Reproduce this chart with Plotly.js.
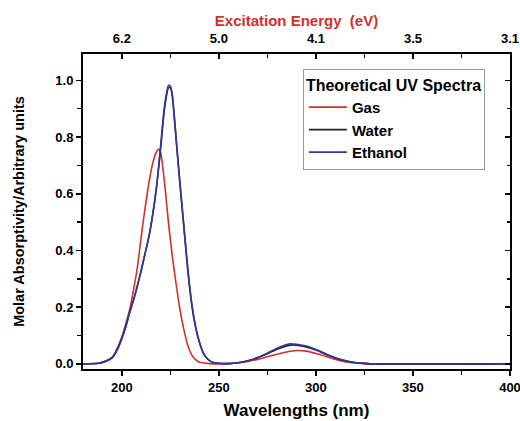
<!DOCTYPE html>
<html><head><meta charset="utf-8">
<script src="https://cdn.plot.ly/plotly-3.0.1.min.js"></script>
<style>body{margin:0;background:#fff}#c{width:520px;height:421px}</style>
</head><body><div id="c"></div>
<script>
// Gas
const gasX = [180,188,192,195,198,200,202,204,206,208,210,212,214,216,218,219,220,222,223,224,226,228,230,232,234,236,238,240,244,250,255,260,265,270,275,280,285,290,295,300,305,310,315,320,325,330,400];
const gasY = [0,0.002,0.01,0.022,0.06,0.095,0.14,0.19,0.26,0.34,0.45,0.55,0.64,0.71,0.75,0.757,0.745,0.64,0.57,0.5,0.38,0.28,0.19,0.12,0.065,0.032,0.015,0.006,0.002,0.0,0.001,0.004,0.009,0.016,0.025,0.034,0.042,0.047,0.045,0.037,0.027,0.016,0.008,0.003,0.001,0,0];
// Water
const waterX = [180,188,192,195,198,200,202,204,206,208,210,212,214,216,218,220,222,224,225,226,228,230,232,234,236,238,240,242,244,246,250,255,260,265,270,275,280,285,288,290,295,300,305,310,315,320,325,330,400];
const waterY = [0,0.002,0.01,0.022,0.055,0.09,0.13,0.18,0.225,0.275,0.33,0.39,0.45,0.53,0.63,0.76,0.9,0.973,0.975,0.945,0.79,0.63,0.48,0.33,0.21,0.13,0.075,0.038,0.018,0.008,0.002,0.001,0.004,0.011,0.022,0.036,0.052,0.063,0.067,0.066,0.06,0.049,0.034,0.021,0.011,0.005,0.002,0,0];
// Ethanol
const ethX = [180,188,192,195,198,200,202,204,206,208,210,212,214,216,218,220,222,224,225,226,228,230,232,234,236,238,240,242,244,246,250,255,260,265,270,275,280,285,287,290,295,300,305,310,315,320,325,330,400];
const ethY = [0,0.002,0.01,0.022,0.055,0.09,0.13,0.18,0.225,0.275,0.33,0.39,0.45,0.53,0.63,0.77,0.91,0.982,0.98,0.95,0.795,0.635,0.485,0.335,0.215,0.132,0.077,0.04,0.019,0.008,0.002,0.001,0.004,0.011,0.023,0.038,0.055,0.068,0.071,0.069,0.063,0.051,0.036,0.022,0.012,0.005,0.002,0,0];

const nmTicks = [200,250,300,350,400];
const eVLabels = ['6.2','5.0','4.1','3.5','3.1'];
const yTicks = [0,0.2,0.4,0.6,0.8,1.0];

const F = 'Arial, "Liberation Sans", sans-serif';
const line = (c)=>({color:c, width:1.6, shape:'spline', smoothing:0.6});

const traces = [
  {x:gasX, y:gasY, name:'Gas', mode:'lines', line:line('#d0312d')},
  {x:waterX, y:waterY, name:'Water', mode:'lines', line:line('#222222')},
  {x:ethX, y:ethY, name:'Ethanol', mode:'lines', line:line('#3535a0')},
  {x:gasX, y:gasY, xaxis:'x2', yaxis:'y2', mode:'lines', line:{width:0}, opacity:0, showlegend:false, hoverinfo:'skip'}
];

const axBase = {showgrid:false, zeroline:false, showline:true, linecolor:'#000', linewidth:2, tickcolor:'#000', tickwidth:1.5, ticklabeloverflow:'allow'};
const tf = {size:13, family:F, weight:'bold'};

const layout = {
  width:520, height:421,
  margin:{l:83, r:10, t:54, b:52},
  paper_bgcolor:'#fff', plot_bgcolor:'#fff',
  font:{family:F, color:'#000'},
  showlegend:true,
  xaxis: Object.assign({}, axBase, {
    range:[180,400], tickvals:nmTicks, ticks:'outside', ticklen:5, tickfont:tf,
    minor:{ticks:'outside', dtick:25, tick0:0, ticklen:4, tickcolor:'#000', tickwidth:1.5},
    title:{text:'Wavelengths (nm)', font:{size:17, family:F, weight:'bold'}, standoff:11}
  }),
  xaxis2: Object.assign({}, axBase, {
    range:[180,400], overlaying:'x', side:'top', anchor:'y', tickvals:nmTicks, ticktext:eVLabels,
    ticks:'inside', ticklen:5, tickfont:tf, ticklabelstandoff:4,
    minor:{ticks:'inside', dtick:25, tick0:0, ticklen:4, tickcolor:'#000', tickwidth:1.5},
    title:{text:'Excitation Energy  (eV)', font:{size:15, family:F, weight:'bold', color:'#d0312d'}, standoff:1}
  }),
  yaxis: Object.assign({}, axBase, {
    range:[-0.018,1.093], tickvals:yTicks, tickformat:'.1f', ticks:'outside', ticklen:5, tickfont:tf,
    minor:{ticks:'outside', dtick:0.1, tick0:0, ticklen:4, tickcolor:'#000', tickwidth:1.5},
    title:{text:'Molar Absorptivity/Arbitrary units', font:{size:14.5, family:F, weight:'bold'}, standoff:27}
  }),
  yaxis2: Object.assign({}, axBase, {
    range:[-0.018,1.093], overlaying:'y', side:'right', anchor:'x', tickvals:yTicks,
    showticklabels:false, ticks:'inside', ticklen:5,
    minor:{ticks:'inside', dtick:0.1, tick0:0, ticklen:3, tickcolor:'#000', tickwidth:1.5}
  }),
  legend:{x:0.515, y:0.952, xanchor:'left', yanchor:'top', bgcolor:'#fff', bordercolor:'#999', borderwidth:1,
    font:{size:15, family:F, weight:'bold'}, tracegroupgap:0, itemwidth:38,
    title:{text:'Theoretical UV Spectra', side:'top', font:{size:16, family:F, weight:'bold'}}}
};

Plotly.newPlot('c', traces, layout, {displayModeBar:false, staticPlot:true});
</script></body></html>
